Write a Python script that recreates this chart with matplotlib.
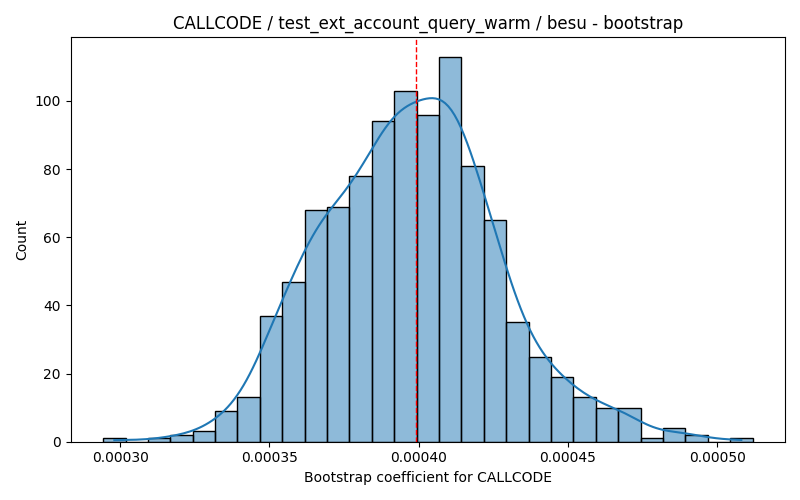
import numpy as np
import matplotlib.pyplot as plt
import seaborn as sns

# ===============================
# BOOTSTRAP HISTOGRAM
# ===============================

start = 0.0002943
width = 7.5e-6
counts = [1, 0, 1, 2, 3, 9, 13, 37, 47, 68, 69, 78, 94, 103, 96,
          113, 81, 65, 35, 25, 19, 13, 10, 10, 1, 4, 2, 0, 1]

edges = start + width * np.arange(len(counts) + 1)
centers = (edges[:-1] + edges[1:]) / 2
samples = np.repeat(centers, counts)

mean_value = 0.000399

# ---------------------------------------------------
# PLOT
# ---------------------------------------------------
fig, ax = plt.subplots(figsize=(8, 5), dpi=100)

sns.histplot(samples, bins=edges, kde=True, ax=ax)
ax.axvline(mean_value, color="red", linestyle="--", linewidth=1)

ax.set_title("CALLCODE / test_ext_account_query_warm / besu - bootstrap")
ax.set_xlabel("Bootstrap coefficient for CALLCODE")
ax.set_ylabel("Count")

fig.tight_layout()
fig.savefig("out.png")
